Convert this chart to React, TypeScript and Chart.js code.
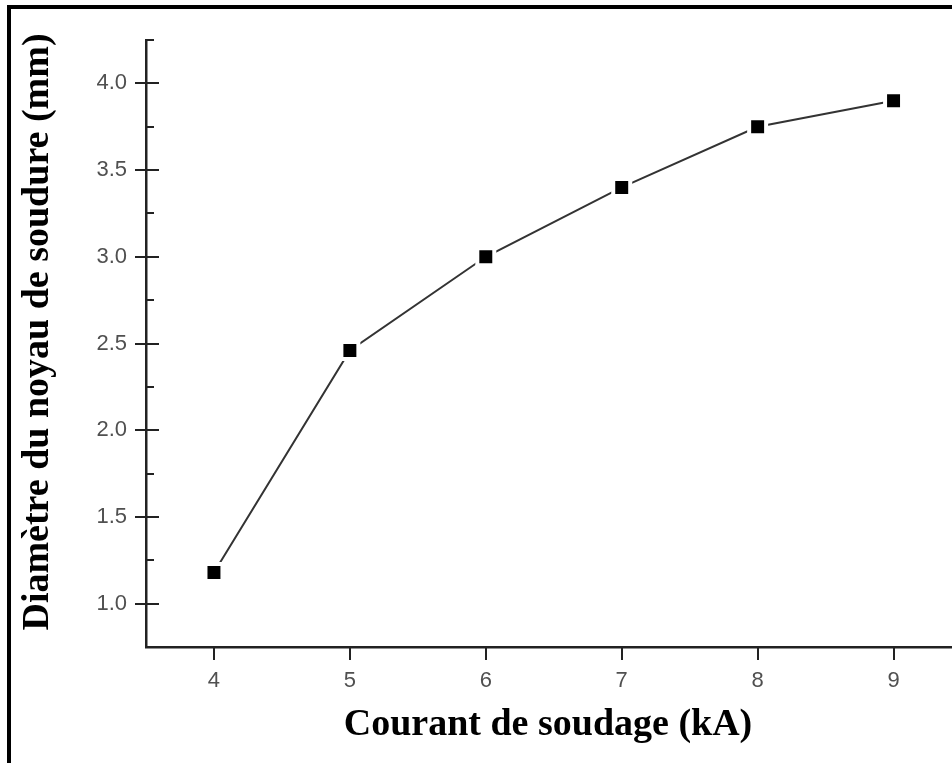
import React, { useEffect, useRef } from "react";
import { Chart, registerables } from "chart.js";

Chart.register(...registerables);

const courant = [4, 5, 6, 7, 8, 9];
const diametre = [1.18, 2.46, 3.0, 3.4, 3.75, 3.9];
const xTickValues = [4, 5, 6, 7, 8, 9];
const yTickValues = [1.0, 1.5, 2.0, 2.5, 3.0, 3.5, 4.0];
const yMinorTickValues = [1.25, 1.75, 2.25, 2.75, 3.25, 3.75, 4.25];
const xTitle = "Courant de soudage (kA)";
const yTitle = "Diamètre du noyau de soudure (mm)";

const W = 952;
const H = 763;
const titleFont = "bold 38px 'Liberation Serif', 'Times New Roman', serif";

const decorPlugin = {
  id: "decor",
  afterDraw(chart: any) {
    const ctx = chart.ctx;
    const xs = chart.scales.x;
    const ys = chart.scales.y;
    const axisX = ys.right;
    const axisY = xs.top;
    ctx.save();
    ctx.strokeStyle = "#222";
    ctx.lineWidth = 2;
    ctx.beginPath();
    for (const v of yTickValues) {
      const p = Math.round(ys.getPixelForValue(v));
      ctx.moveTo(axisX - 11, p);
      ctx.lineTo(axisX + 13, p);
    }
    for (const v of yMinorTickValues) {
      const p = Math.round(ys.getPixelForValue(v));
      ctx.moveTo(axisX, p);
      ctx.lineTo(axisX + 8, p);
    }
    for (const v of xTickValues) {
      const p = Math.round(xs.getPixelForValue(v));
      ctx.moveTo(p, axisY);
      ctx.lineTo(p, axisY + 13);
    }
    ctx.stroke();

    // axis titles
    ctx.fillStyle = "#000";
    ctx.font = titleFont;
    ctx.textAlign = "center";
    ctx.textBaseline = "middle";
    ctx.fillText(xTitle, 548, 725);
    ctx.save();
    ctx.translate(38, 332);
    ctx.rotate(-Math.PI / 2);
    ctx.fillText(yTitle, 0, 0);
    ctx.restore();

    // outer frame (top and left)
    ctx.fillStyle = "#000";
    ctx.fillRect(7, 5, W - 7, 4);
    ctx.fillRect(7, 5, 4, H - 5);
    ctx.restore();
  },
};

export default function App() {
  const ref = useRef<HTMLCanvasElement | null>(null);
  useEffect(() => {
    if (!ref.current) return;
    const chart = new Chart(ref.current, {
      type: "line",
      data: {
        datasets: [
          {
            data: courant.map((x, i) => ({ x, y: diametre[i] })),
            borderColor: "#333",
            borderWidth: 2,
            pointStyle: "rect",
            pointRadius: 12,
            pointBackgroundColor: "#000",
            pointBorderColor: "#fff",
            pointBorderWidth: 4,
            tension: 0,
          },
        ],
      },
      options: {
        animation: false,
        responsive: false,
        devicePixelRatio: 1,
        layout: { autoPadding: false, padding: { top: 40, left: 0, right: 0, bottom: 0 } },
        plugins: { legend: { display: false }, tooltip: { enabled: false } },
        scales: {
          x: {
            type: "linear",
            min: 3.5,
            max: 9.43,
            afterBuildTicks: (s: any) => {
              s.ticks = xTickValues.map((v) => ({ value: v }));
            },
            afterFit: (s: any) => {
              s.height = H - 647;
              s.paddingLeft = 0;
              s.paddingRight = 0;
            },
            grid: { display: false, drawTicks: false },
            border: { display: true, color: "#222", width: 2.5 },
            ticks: {
              color: "#505050",
              padding: 21,
              font: { family: "'Liberation Sans', Arial, sans-serif", size: 22 },
              maxRotation: 0,
              callback: (v: any) => String(v),
            },
            title: { display: false, text: xTitle },
          },
          y: {
            type: "linear",
            min: 0.75,
            max: 4.25,
            afterBuildTicks: (s: any) => {
              s.ticks = yTickValues.map((v) => ({ value: v }));
            },
            afterFit: (s: any) => {
              s.width = 146;
              s.paddingTop = 0;
              s.paddingBottom = 0;
            },
            grid: { display: false, drawTicks: false },
            border: { display: true, color: "#222", width: 2.5 },
            ticks: {
              color: "#505050",
              padding: 19,
              font: { family: "'Liberation Sans', Arial, sans-serif", size: 22 },
              callback: (v: any) => Number(v).toFixed(1),
            },
            title: { display: false, text: yTitle },
          },
        },
      },
      plugins: [decorPlugin],
    } as any);
    return () => chart.destroy();
  }, []);
  return (
    <div style={{ position: "absolute", left: 0, top: 0, width: W, height: H, background: "#fff" }}>
      <canvas ref={ref} width={W} height={H} style={{ display: "block" }} />
    </div>
  );
}
